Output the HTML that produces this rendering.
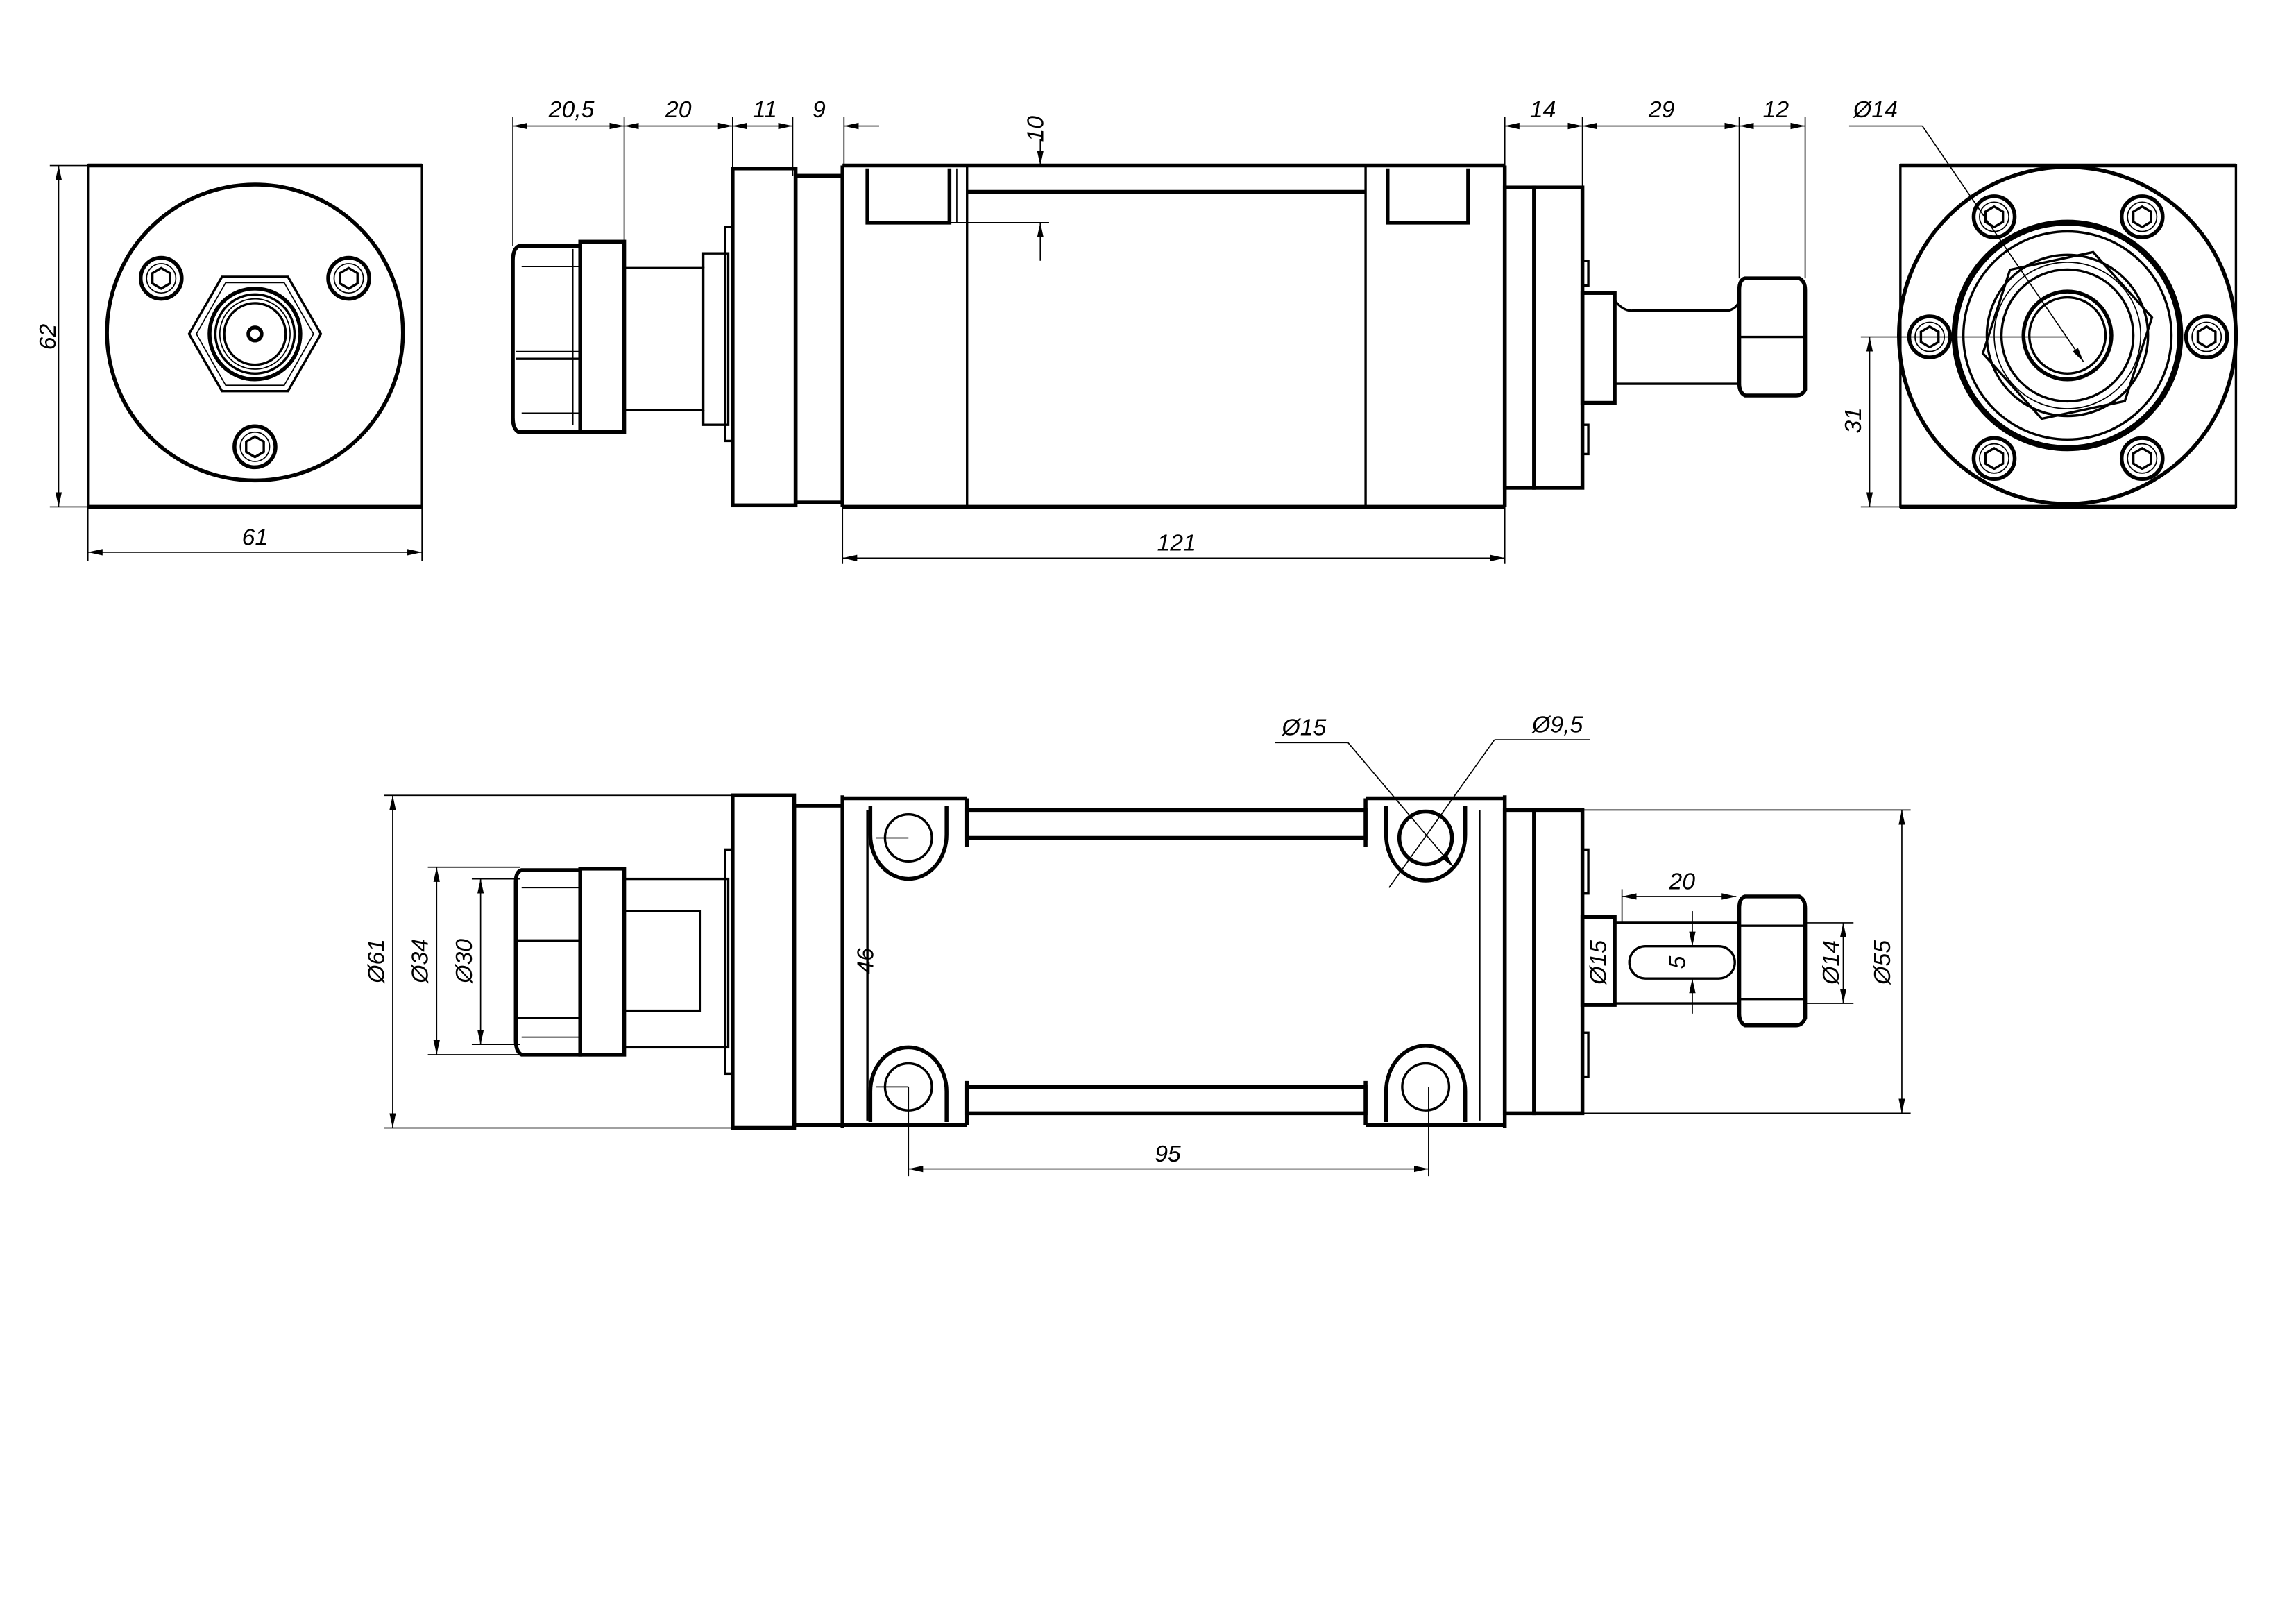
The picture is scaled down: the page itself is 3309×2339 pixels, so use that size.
<!DOCTYPE html>
<html><head><meta charset="utf-8"><style>
html,body{margin:0;padding:0;background:#fff;}
svg{display:block;}
text{font-family:"Liberation Sans",sans-serif;font-style:italic;font-size:16px;fill:#000;}
.k{stroke:#000;stroke-width:2.6;fill:none;}
.m{stroke:#000;stroke-width:1.6;fill:none;}
.t{stroke:#000;stroke-width:0.8;fill:none;}
</style></head><body>
<svg width="3309" height="2339" viewBox="0 0 1567 1108" preserveAspectRatio="none" xmlns="http://www.w3.org/2000/svg">
<defs>
<marker id="a" viewBox="0 0 10 6" refX="10" refY="3" markerWidth="10" markerHeight="6" orient="auto-start-reverse" markerUnits="userSpaceOnUse"><path d="M0,0.8 L10,3 L0,5.2 z" fill="#000"/></marker>
<g id="scr"><circle r="14" class="k"/><circle r="10" class="t"/><polygon points="7,0 3.5,6 -3.5,6 -7,0 -3.5,-6 3.5,-6" transform="rotate(90)" class="m"/></g>
</defs>

<rect x="60" y="113" width="228" height="233" class="m"/>
<line x1="60" y1="113" x2="288" y2="113" class="k"/><line x1="60" y1="346" x2="288" y2="346" class="k"/>
<circle cx="174" cy="227" r="101" class="k"/>
<use href="#scr" x="110" y="190"/><use href="#scr" x="238" y="190"/><use href="#scr" x="174" y="305"/>
<polygon points="129,228 151.5,189 196.5,189 219,228 196.5,267 151.5,267" class="m"/>
<polygon points="134,228 154,193 194,193 214,228 194,263 154,263" class="t"/>
<circle cx="174" cy="228" r="31" class="k"/><circle cx="174" cy="228" r="27" class="m"/><circle cx="174" cy="228" r="24" class="t"/><circle cx="174" cy="228" r="21" class="m"/>
<circle cx="174" cy="228" r="4.5" class="k"/>
<line x1="40" y1="113" x2="40" y2="346" class="t" marker-start="url(#a)" marker-end="url(#a)"/>
<line x1="34" y1="113" x2="60" y2="113" class="t"/><line x1="34" y1="346" x2="60" y2="346" class="t"/>
<text x="0" y="0" transform="translate(38,230) rotate(-90)" text-anchor="middle">62</text>
<line x1="60" y1="377" x2="288" y2="377" class="t" marker-start="url(#a)" marker-end="url(#a)"/>
<line x1="60" y1="346" x2="60" y2="383" class="t"/><line x1="288" y1="346" x2="288" y2="383" class="t"/>
<text x="174" y="372" text-anchor="middle">61</text>

<path d="M354,168 L396,168 L396,295 L354,295 Q350,293 350,285 L350,178 Q350,170 354,168 Z" class="k"/>
<line x1="352" y1="245" x2="396" y2="245" class="m"/><line x1="352" y1="240" x2="396" y2="240" class="t"/>
<line x1="356" y1="182" x2="396" y2="182" class="t"/><line x1="356" y1="282" x2="396" y2="282" class="t"/>
<rect x="396" y="165" width="30" height="130" class="k"/>
<line x1="391" y1="170" x2="391" y2="290" class="t"/>
<rect x="426" y="183" width="54" height="97" class="m"/>
<path d="M480,183 L480,173 L497,173 L497,290 L480,290 L480,280" class="m"/>
<rect x="495" y="155" width="5" height="146" class="m"/>
<rect x="500" y="115" width="43" height="230" class="k"/>
<rect x="543" y="120" width="32" height="223" class="k"/>
<line x1="575" y1="113" x2="1027" y2="113" class="k"/><line x1="575" y1="346" x2="1027" y2="346" class="k"/>
<line x1="575" y1="113" x2="575" y2="346" class="k"/><line x1="1027" y1="113" x2="1027" y2="346" class="k"/>
<line x1="660" y1="113" x2="660" y2="346" class="m"/><line x1="932" y1="113" x2="932" y2="346" class="m"/>
<line x1="660" y1="131" x2="932" y2="131" class="k"/>
<path d="M592,115 L592,152 L648,152 L648,115" class="k"/>
<path d="M947,115 L947,152 L1002,152 L1002,115" class="k"/>
<line x1="653" y1="115" x2="653" y2="152" class="t"/>
<rect x="1027" y="128" width="20" height="205" class="k"/>
<rect x="1047" y="128" width="33" height="205" class="k"/>
<rect x="1080" y="178" width="4" height="17" class="m"/><rect x="1080" y="290" width="4" height="20" class="m"/>
<rect x="1080" y="200" width="22" height="75" class="k"/>
<path d="M1102,205 Q1108,213 1115,212 L1180,212 Q1186,210 1187,205" class="m"/>
<line x1="1102" y1="262" x2="1187" y2="262" class="m"/>
<path d="M1191,190 L1228,190 Q1232,192 1232,198 L1232,266 Q1230,270 1226,270 L1191,270 Q1187,268 1187,262 L1187,198 Q1187,191 1191,190 Z" class="k"/>
<line x1="1187" y1="230" x2="1232" y2="230" class="m"/>
<line x1="350" y1="80" x2="350" y2="168" class="t"/><line x1="426" y1="80" x2="426" y2="165" class="t"/>
<line x1="500" y1="80" x2="500" y2="115" class="t"/><line x1="541" y1="80" x2="541" y2="120" class="t"/>
<line x1="576" y1="80" x2="576" y2="113" class="t"/>
<line x1="350" y1="86" x2="426" y2="86" class="t" marker-start="url(#a)" marker-end="url(#a)"/>
<line x1="426" y1="86" x2="500" y2="86" class="t" marker-start="url(#a)" marker-end="url(#a)"/>
<line x1="500" y1="86" x2="541" y2="86" class="t" marker-start="url(#a)" marker-end="url(#a)"/>
<line x1="576" y1="86" x2="600" y2="86" class="t" marker-start="url(#a)"/>
<text x="390" y="80" text-anchor="middle">20,5</text><text x="463" y="80" text-anchor="middle">20</text>
<text x="522" y="80" text-anchor="middle">11</text><text x="559" y="80" text-anchor="middle">9</text>
<line x1="1027" y1="80" x2="1027" y2="113" class="t"/><line x1="1080" y1="80" x2="1080" y2="128" class="t"/>
<line x1="1187" y1="80" x2="1187" y2="190" class="t"/><line x1="1232" y1="80" x2="1232" y2="190" class="t"/>
<line x1="1027" y1="86" x2="1080" y2="86" class="t" marker-start="url(#a)" marker-end="url(#a)"/>
<line x1="1080" y1="86" x2="1187" y2="86" class="t" marker-start="url(#a)" marker-end="url(#a)"/>
<line x1="1187" y1="86" x2="1232" y2="86" class="t" marker-start="url(#a)" marker-end="url(#a)"/>
<text x="1053" y="80" text-anchor="middle">14</text><text x="1134" y="80" text-anchor="middle">29</text><text x="1212" y="80" text-anchor="middle">12</text>
<line x1="710" y1="95" x2="710" y2="113" class="t" marker-end="url(#a)"/>
<line x1="710" y1="178" x2="710" y2="152" class="t" marker-end="url(#a)"/>
<line x1="648" y1="152" x2="716" y2="152" class="t"/>
<text x="0" y="0" transform="translate(712,88) rotate(-90)" text-anchor="middle">10</text>
<line x1="575" y1="346" x2="575" y2="385" class="t"/><line x1="1027" y1="346" x2="1027" y2="385" class="t"/>
<line x1="575" y1="381" x2="1027" y2="381" class="t" marker-start="url(#a)" marker-end="url(#a)"/>
<text x="803" y="376" text-anchor="middle">121</text>

<rect x="1297" y="113" width="229" height="233" class="m"/>
<line x1="1297" y1="113" x2="1526" y2="113" class="k"/><line x1="1297" y1="346" x2="1526" y2="346" class="k"/>
<circle cx="1411" cy="229" r="115" class="k"/>
<circle cx="1411" cy="229" r="77" class="k" style="stroke-width:4"/>
<circle cx="1411" cy="229" r="71" class="m"/>
<polygon points="1470,229 1440,281 1382,281 1352,229 1382,177 1440,177" transform="rotate(-12 1411 229)" class="m"/>
<circle cx="1411" cy="229" r="55" class="m"/><circle cx="1411" cy="229" r="50" class="t"/><circle cx="1411" cy="229" r="45" class="m"/>
<circle cx="1411" cy="229" r="30" class="k"/><circle cx="1411" cy="229" r="26" class="m"/>
<use href="#scr" x="1361" y="148"/><use href="#scr" x="1462" y="148"/><use href="#scr" x="1317" y="230"/><use href="#scr" x="1506" y="230"/><use href="#scr" x="1361" y="313"/><use href="#scr" x="1462" y="313"/>
<line x1="1262" y1="86" x2="1312" y2="86" class="t"/>
<line x1="1312" y1="86" x2="1422" y2="247" class="t" marker-end="url(#a)"/>
<text x="1280" y="80" text-anchor="middle">Ø14</text>
<line x1="1270" y1="230" x2="1411" y2="230" class="t"/><line x1="1270" y1="346" x2="1297" y2="346" class="t"/>
<line x1="1276" y1="230" x2="1276" y2="346" class="t" marker-start="url(#a)" marker-end="url(#a)"/>
<text x="0" y="0" transform="translate(1270,287) rotate(-90)" text-anchor="middle">31</text>

<path d="M356,594 L396,594 L396,720 L356,720 Q352,718 352,710 L352,602 Q352,595 356,594 Z" class="k"/>
<line x1="352" y1="642" x2="396" y2="642" class="m"/><line x1="352" y1="695" x2="396" y2="695" class="m"/>
<line x1="356" y1="606" x2="396" y2="606" class="t"/><line x1="356" y1="708" x2="396" y2="708" class="t"/>
<rect x="396" y="593" width="30" height="127" class="k"/>
<rect x="426" y="600" width="71" height="115" class="m"/>
<rect x="426" y="622" width="52" height="68" class="m"/>
<rect x="495" y="580" width="5" height="153" class="m"/>
<rect x="500" y="543" width="42" height="227" class="k"/>
<rect x="542" y="550" width="33" height="218" class="k"/>
<line x1="575" y1="543" x2="575" y2="770" class="k"/><line x1="592" y1="553" x2="592" y2="765" class="m"/>
<line x1="575" y1="545" x2="660" y2="545" class="k"/><line x1="575" y1="768" x2="660" y2="768" class="k"/>
<line x1="932" y1="545" x2="1027" y2="545" class="k"/><line x1="932" y1="768" x2="1027" y2="768" class="k"/>
<line x1="1027" y1="543" x2="1027" y2="770" class="k"/>
<line x1="660" y1="545" x2="660" y2="578" class="k"/><line x1="660" y1="738" x2="660" y2="768" class="k"/>
<line x1="932" y1="545" x2="932" y2="578" class="k"/><line x1="932" y1="738" x2="932" y2="768" class="k"/>
<line x1="1010" y1="553" x2="1010" y2="765" class="t"/>
<rect x="660" y="553" width="272" height="19" class="k"/>
<rect x="660" y="742" width="272" height="18" class="k"/>
<path d="M594,550 L594,570 A26,30 0 0 0 646,570 L646,550" class="k"/>
<path d="M594,766 L594,745 A26,30 0 0 1 646,745 L646,766" class="k"/>
<path d="M946,550 L946,570 A26,30 0 0 0 1000,570 L1000,550" class="k"/>
<path d="M946,766 L946,745 A26,30 0 0 1 1000,745 L1000,766" class="k"/>
<circle cx="620" cy="572" r="16" class="m"/><circle cx="620" cy="742" r="16" class="m"/>
<circle cx="973" cy="572" r="18" class="k"/><circle cx="973" cy="742" r="16" class="m"/>
<line x1="598" y1="572" x2="620" y2="572" class="t"/><line x1="598" y1="742" x2="620" y2="742" class="t"/>
<rect x="1027" y="553" width="20" height="207" class="k"/>
<rect x="1047" y="553" width="33" height="207" class="k"/>
<rect x="1080" y="580" width="4" height="30" class="m"/><rect x="1080" y="705" width="4" height="30" class="m"/>
<rect x="1080" y="626" width="22" height="60" class="k"/>
<line x1="1102" y1="630" x2="1187" y2="630" class="m"/><line x1="1102" y1="685" x2="1187" y2="685" class="m"/>
<rect x="1112" y="646" width="72" height="22" rx="11" class="m"/>
<path d="M1191,612 L1228,612 Q1232,614 1232,620 L1232,695 Q1230,700 1226,700 L1191,700 Q1187,698 1187,692 L1187,620 Q1187,613 1191,612 Z" class="k"/>
<line x1="1187" y1="632" x2="1232" y2="632" class="m"/><line x1="1187" y1="682" x2="1232" y2="682" class="m"/>
<line x1="262" y1="543" x2="500" y2="543" class="t"/><line x1="262" y1="770" x2="500" y2="770" class="t"/>
<line x1="268" y1="543" x2="268" y2="770" class="t" marker-start="url(#a)" marker-end="url(#a)"/>
<text x="0" y="0" transform="translate(262,656) rotate(-90)" text-anchor="middle">Ø61</text>
<line x1="292" y1="592" x2="355" y2="592" class="t"/><line x1="292" y1="720" x2="355" y2="720" class="t"/>
<line x1="298" y1="592" x2="298" y2="720" class="t" marker-start="url(#a)" marker-end="url(#a)"/>
<text x="0" y="0" transform="translate(292,656) rotate(-90)" text-anchor="middle">Ø34</text>
<line x1="322" y1="600" x2="355" y2="600" class="t"/><line x1="322" y1="713" x2="355" y2="713" class="t"/>
<line x1="328" y1="600" x2="328" y2="713" class="t" marker-start="url(#a)" marker-end="url(#a)"/>
<text x="0" y="0" transform="translate(322,656) rotate(-90)" text-anchor="middle">Ø30</text>
<text x="0" y="0" transform="translate(596,656) rotate(-90)" text-anchor="middle">46</text>
<line x1="620" y1="742" x2="620" y2="803" class="t"/><line x1="975" y1="742" x2="975" y2="803" class="t"/>
<line x1="620" y1="798" x2="975" y2="798" class="t" marker-start="url(#a)" marker-end="url(#a)"/>
<text x="797" y="793" text-anchor="middle">95</text>
<line x1="870" y1="507" x2="920" y2="507" class="t"/>
<line x1="920" y1="507" x2="992" y2="592" class="t" marker-end="url(#a)"/>
<text x="890" y="502" text-anchor="middle">Ø15</text>
<line x1="1020" y1="505" x2="1085" y2="505" class="t"/>
<line x1="1020" y1="505" x2="948" y2="606" class="t"/>
<text x="1063" y="500" text-anchor="middle">Ø9,5</text>
<line x1="1107" y1="612" x2="1185" y2="612" class="t" marker-start="url(#a)" marker-end="url(#a)"/>
<line x1="1107" y1="607" x2="1107" y2="630" class="t"/>
<text x="1148" y="607" text-anchor="middle">20</text>
<line x1="1155" y1="622" x2="1155" y2="646" class="t" marker-end="url(#a)"/>
<line x1="1155" y1="692" x2="1155" y2="668" class="t" marker-end="url(#a)"/>
<text x="0" y="0" transform="translate(1150,657) rotate(-90)" text-anchor="middle">5</text>
<text x="0" y="0" transform="translate(1096,657) rotate(-90)" text-anchor="middle">Ø15</text>
<line x1="1232" y1="630" x2="1265" y2="630" class="t"/><line x1="1232" y1="685" x2="1265" y2="685" class="t"/>
<line x1="1258" y1="630" x2="1258" y2="685" class="t" marker-start="url(#a)" marker-end="url(#a)"/>
<text x="0" y="0" transform="translate(1255,657) rotate(-90)" text-anchor="middle">Ø14</text>
<line x1="1080" y1="553" x2="1304" y2="553" class="t"/><line x1="1080" y1="760" x2="1304" y2="760" class="t"/>
<line x1="1298" y1="553" x2="1298" y2="760" class="t" marker-start="url(#a)" marker-end="url(#a)"/>
<text x="0" y="0" transform="translate(1290,657) rotate(-90)" text-anchor="middle">Ø55</text>
</svg>
</body></html>
